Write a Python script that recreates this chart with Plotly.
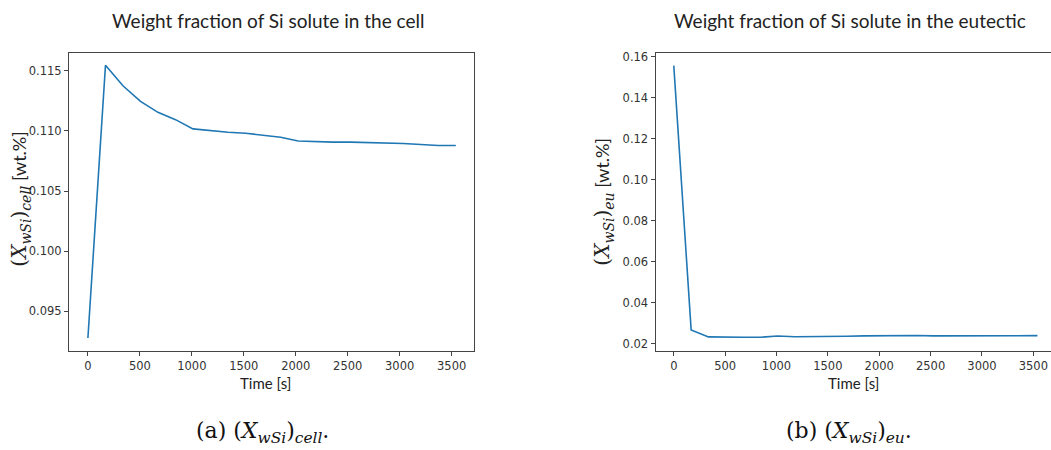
import plotly.graph_objects as go

W, H = 1051, 450

time_s = [0, 169, 337, 506, 674, 843, 1011, 1180, 1349, 1517, 1686, 1854,
          2023, 2191, 2360, 2529, 2697, 2866, 3034, 3203, 3371, 3540]
x_cell = [0.09279, 0.11546, 0.11376, 0.11246, 0.11155, 0.11094, 0.11017, 0.11000,
          0.10989, 0.10981, 0.10967, 0.10948, 0.10917, 0.10909, 0.10907, 0.10907,
          0.10904, 0.10898, 0.10896, 0.10888, 0.10879, 0.10879]
x_eu = [0.1556, 0.0268, 0.0234, 0.0232, 0.0232, 0.0232, 0.0238, 0.0235,
        0.0235, 0.0234, 0.0237, 0.0239, 0.0240, 0.0240, 0.0241, 0.0239,
        0.0239, 0.0240, 0.0240, 0.0242, 0.0240, 0.0240]

x_ticks = [0, 500, 1000, 1500, 2000, 2500, 3000, 3500]
cell_ticks = [0.095, 0.100, 0.105, 0.110, 0.115]
eu_ticks = [0.02, 0.04, 0.06, 0.08, 0.10, 0.12, 0.14, 0.16]

titles = ["Weight fraction of Si solute in the cell",
          "Weight fraction of Si solute in the eutectic"]

LINE = "#1f77b4"
FRAME = "#444444"
TICKFONT = dict(family="DejaVu Sans", size=11.5, color="#333333")
SANS = "Lato"
SERIF = "DejaVu Serif"

def px(x):
    return x / W

def py(y):
    return 1 - y / H

fig = go.Figure()
fig.add_trace(go.Scatter(x=time_s, y=x_cell, mode="lines",
                         line=dict(color=LINE, width=1.6), xaxis="x", yaxis="y",
                         showlegend=False))
fig.add_trace(go.Scatter(x=time_s, y=x_eu, mode="lines",
                         line=dict(color=LINE, width=1.6), xaxis="x2", yaxis="y2",
                         showlegend=False))

common_x = dict(tickmode="array", tickvals=x_ticks, ticks="outside", ticklen=4,
                tickcolor=FRAME, tickfont=TICKFONT, showgrid=False, zeroline=False,
                showline=True, linecolor=FRAME, linewidth=1)
common_y = dict(ticks="outside", ticklen=4, tickcolor=FRAME, tickfont=TICKFONT,
                showgrid=False, zeroline=False, showline=True, linecolor=FRAME,
                linewidth=1)

fig.update_layout(
    width=W, height=H, margin=dict(l=0, r=0, t=0, b=0),
    paper_bgcolor="white", plot_bgcolor="white",
    xaxis=dict(domain=[px(69), px(474)], range=[-182, 3715], mirror=True,
               anchor="y", **common_x),
    yaxis=dict(domain=[py(350.5), py(50)], range=[0.09169, 0.11651], mirror=True,
               anchor="x", tickmode="array", tickvals=cell_ticks,
               tickformat=".3f", **common_y),
    xaxis2=dict(domain=[px(655.5), 1.0], range=[-178, 3672], mirror=True,
                anchor="y2", **common_x),
    yaxis2=dict(domain=[py(350.5), py(50)], range=[0.01644, 0.1619], mirror=False,
                anchor="x2", tickmode="array", tickvals=eu_ticks,
                tickformat=".2f", **common_y),
)

ann = []
# Titles
ann.append(dict(x=px(268), y=py(18), text=titles[0]))
ann.append(dict(x=px(850), y=py(18), text=titles[1]))
for a in ann:
    a.update(xref="paper", yref="paper", showarrow=False,
             font=dict(family=SANS, size=19, color="#222222"),
             xanchor="center", yanchor="middle")

# X axis titles
for xc in (265, 853):
    ann.append(dict(x=px(xc), y=py(383), xref="paper", yref="paper", showarrow=False,
                    text="Time [s]", font=dict(family=SANS, size=15, color="#222222"),
                    xanchor="center", yanchor="middle"))

# Y axis titles
ylab_cell = ("<span style='font-family:DejaVu Serif;font-size:20px'>(<i>X</i><sub><i>wSi</i></sub>)"
             "<sub><i>cell</i></sub></span> [wt.%]")
ylab_eu = ("<span style='font-family:DejaVu Serif;font-size:20px'>(<i>X</i><sub><i>wSi</i></sub>)"
           "<sub><i>eu</i></sub></span> [wt.%]")
ann.append(dict(x=px(20), y=py(198), xref="paper", yref="paper", showarrow=False,
                text=ylab_cell, textangle=-90,
                font=dict(family=SANS, size=18, color="#222222"),
                xanchor="center", yanchor="middle"))
ann.append(dict(x=px(603), y=py(200), xref="paper", yref="paper", showarrow=False,
                text=ylab_eu, textangle=-90,
                font=dict(family=SANS, size=18, color="#222222"),
                xanchor="center", yanchor="middle"))

# Captions
cap_a = "(a) (<i>X</i><sub><i>wSi</i></sub>)<sub><i>cell</i></sub>."
cap_b = "(b) (<i>X</i><sub><i>wSi</i></sub>)<sub><i>eu</i></sub>."
ann.append(dict(x=px(262), y=py(432), xref="paper", yref="paper", showarrow=False,
                text=cap_a, font=dict(family=SERIF, size=22, color="#111111"),
                xanchor="center", yanchor="middle"))
ann.append(dict(x=px(849), y=py(432), xref="paper", yref="paper", showarrow=False,
                text=cap_b, font=dict(family=SERIF, size=22, color="#111111"),
                xanchor="center", yanchor="middle"))

fig.update_layout(annotations=ann)
fig.write_html("out.html")
